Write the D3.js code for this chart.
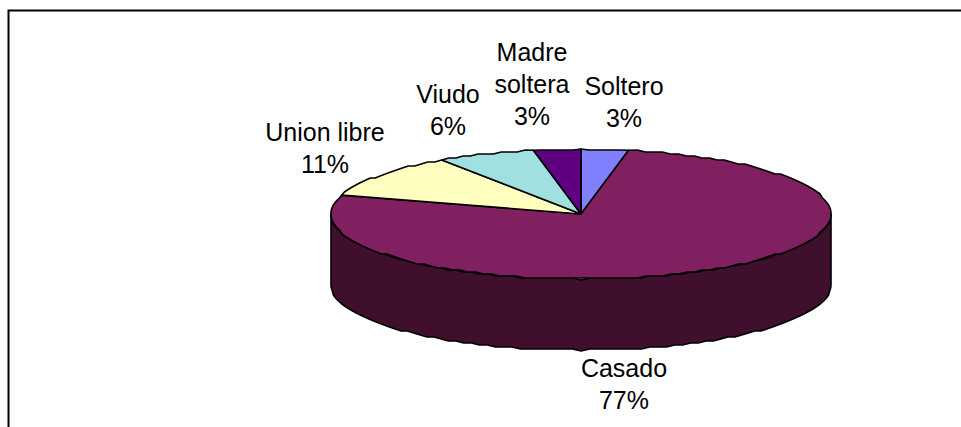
<!DOCTYPE html>
<html lang="en">
<head>
<meta charset="utf-8">
<title>Estado civil</title>
<script src="https://d3js.org/d3.v7.min.js"></script>
<style>
  html, body { margin: 0; background: #fff; }
  svg { display: block; }
  text { font-family: "Liberation Sans", Arial, sans-serif; font-size: 25px; fill: #000; text-anchor: middle; }
</style>
</head>
<body>
<script>
// values, clockwise from 12 o'clock
var categories = ["Soltero", "Casado", "Union libre", "Viudo", "Madre soltera"];
var shares = [3.05, 76.65, 10.9, 6.35, 3.05];
var colors = ["#8080ff", "#802060", "#ffffc0", "#a0e0e0", "#600080"];
var sideColor = "#400f2e";

var width = 961, height = 427;
var cx = 581, cy = 214, rx = 250, ry = 65, depth = 71;

// label lines are wrapped by hand, like the original chart
var labelLines = [["Soltero"], ["Casado"], ["Union libre"], ["Viudo"], ["Madre", "soltera"]];
var labelPos = [[624, 95], [624, 377], [325, 141], [448, 103], [532, 61]];

var svg = d3.select("body").append("svg")
    .attr("width", width)
    .attr("height", height);

// frame is only open on the right and the bottom in the original
svg.append("path")
    .attr("d", d3.line()([[8.5, height], [8.5, 10.5], [width, 10.5]]))
    .attr("fill", "none")
    .attr("stroke", "#000")
    .attr("stroke-width", 2);

var pie = d3.pie().sort(null).value(function(d) { return d; });
var slices = pie(shares);

// pie is tilted, so x and y get their own radius
var px = d3.scaleLinear().domain([-1, 1]).range([cx - rx, cx + rx]);
var py = d3.scaleLinear().domain([-1, 1]).range([cy - ry, cy + ry]);

// rim snapped to a small grid, the original outline is a bit bumpy too
function rim(a0, a1, dy) {
  var n = Math.max(2, Math.ceil(Math.abs(a1 - a0) / 0.035));
  return d3.range(0, n + 1).map(function(i) {
    var a = a0 + (a1 - a0) * i / n;
    var x = px(Math.sin(a)), y = py(-Math.cos(a));
    if (i > 0 && i < n) y = Math.round(y / 2) * 2;
    return [x, y + dy];
  });
}

var line = d3.line();

// side wall, front half of the rim pushed down
var front = rim(Math.PI / 2, Math.PI * 1.5, 0);
var lower = rim(Math.PI * 1.5, Math.PI / 2, depth);
svg.append("path")
    .attr("d", line(front.concat(lower)) + "Z")
    .attr("fill", sideColor)
    .attr("stroke", "#000")
    .attr("stroke-width", 1.6)
    .attr("stroke-linejoin", "round");

svg.append("g").selectAll("path")
    .data(slices)
    .enter().append("path")
    .attr("d", function(d) {
      return line([[cx, cy]].concat(rim(d.startAngle, d.endAngle, 0))) + "Z";
    })
    .attr("fill", function(d, i) { return colors[i]; })
    .attr("stroke", "#000")
    .attr("stroke-width", 1.6)
    .attr("stroke-linejoin", "round");

var labels = svg.append("g").selectAll("text")
    .data(categories)
    .enter().append("text")
    .attr("x", function(d, i) { return labelPos[i][0]; })
    .attr("y", function(d, i) { return labelPos[i][1]; });

labels.each(function(d, i) {
  var t = d3.select(this);
  var rows = labelLines[i].concat(d3.format(".0f")(shares[i]) + "%");
  rows.forEach(function(r, j) {
    t.append("tspan")
      .attr("x", labelPos[i][0])
      .attr("dy", j ? 32 : 0)
      .text(r);
  });
});
</script>
</body>
</html>
